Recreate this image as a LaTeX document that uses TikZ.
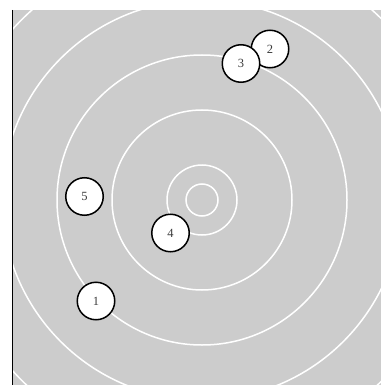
\documentclass[tikz,border=0pt]{standalone}
\usepackage{fontspec}
\setmainfont{Liberation Serif}
\definecolor{bggray}{RGB}{204,204,204}
\definecolor{txtgray}{RGB}{60,60,60}
\tikzset{
  ring/.style={draw=white, line width=1.5pt},
  pt/.style={circle, draw=black, fill=white, line width=1.5pt, minimum size=37.5pt, inner sep=0pt, text=txtgray, font=\fontsize{12.5}{14}\selectfont}
}
\begin{document}
\begin{tikzpicture}[x=1pt,y=-1pt]
\useasboundingbox (0,0) rectangle (381,385);
\begin{scope}
\clip (12,10) rectangle (381,385);
\fill[bggray] (12,10) rectangle (381,385);
\coordinate (c) at (202,200);
\foreach \r in {16,35,90,145,200,255} {
  \draw[ring] (c) circle[radius=\r];
}
\end{scope}
\draw[black, line width=1pt] (12.5,10) -- (12.5,385);
\node[pt] (n1) at (96,301) {1};
\node[pt] (n5) at (84.5,196.5) {5};
\node[pt] (n4) at (170.5,233) {4};
\node[pt] (n2) at (270,49) {2};
\node[pt] (n3) at (241,63.5) {3};
\end{tikzpicture}
\end{document}
